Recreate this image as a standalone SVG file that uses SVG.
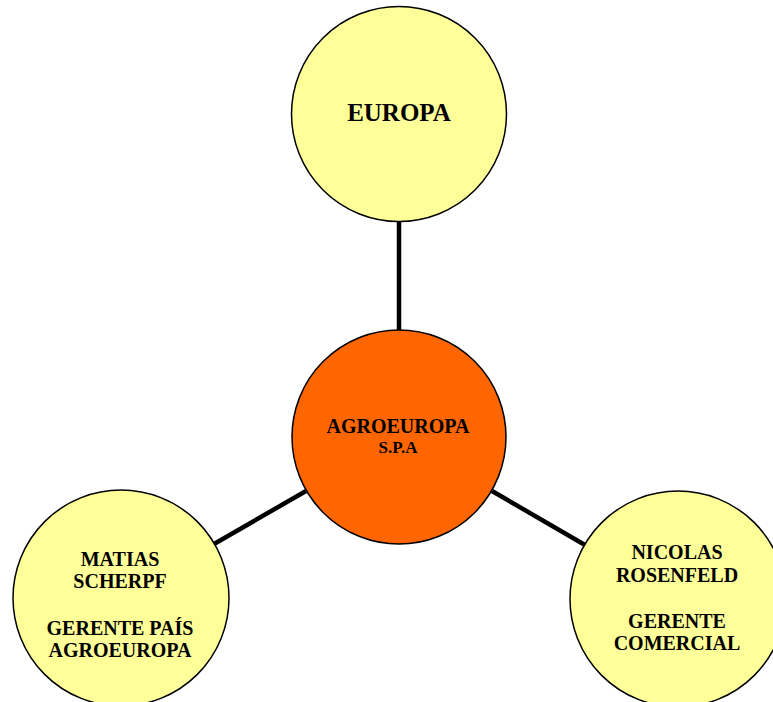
<svg xmlns="http://www.w3.org/2000/svg" width="773" height="702" viewBox="0 0 773 702">
<style>
.n{stroke:#000;stroke-width:1.5}
.y{fill:#FFFF99}
.o{fill:#FF6600}
.c{stroke:#000;stroke-width:4.5;fill:none}
text{font-family:"Liberation Serif","Times New Roman",serif;font-weight:bold;fill:#000;text-anchor:middle}
.t{font-size:20px}
</style>
<rect width="773" height="702" fill="#fff"/>
<g id="connectors">
<line class="c" x1="399" y1="221" x2="399" y2="330"/>
<line class="c" x1="306" y1="491" x2="214" y2="544"/>
<line class="c" x1="492" y1="491" x2="585" y2="545"/>
</g>
<g id="europa">
<circle class="n y" cx="399" cy="114" r="107.5"/>
<text x="399" y="121" style="font-size:25px">EUROPA</text>
</g>
<g id="agroeuropa">
<circle class="n o" cx="399" cy="437" r="107"/>
<text x="398" y="433" style="font-size:20px">AGROEUROPA</text>
<text x="398" y="453" style="font-size:17px">S.P.A</text>
</g>
<g id="matias">
<circle class="n y" cx="121" cy="598" r="108"/>
<text class="t" x="120" y="566">MATIAS</text>
<text class="t" x="120" y="588">SCHERPF</text>
<text class="t" x="120" y="635">GERENTE PAÍS</text>
<text class="t" x="120" y="657">AGROEUROPA</text>
</g>
<g id="nicolas">
<circle class="n y" cx="678" cy="599" r="108"/>
<text class="t" x="677" y="559">NICOLAS</text>
<text class="t" x="677" y="582">ROSENFELD</text>
<text class="t" x="677" y="628">GERENTE</text>
<text class="t" x="677" y="650">COMERCIAL</text>
</g>
</svg>
